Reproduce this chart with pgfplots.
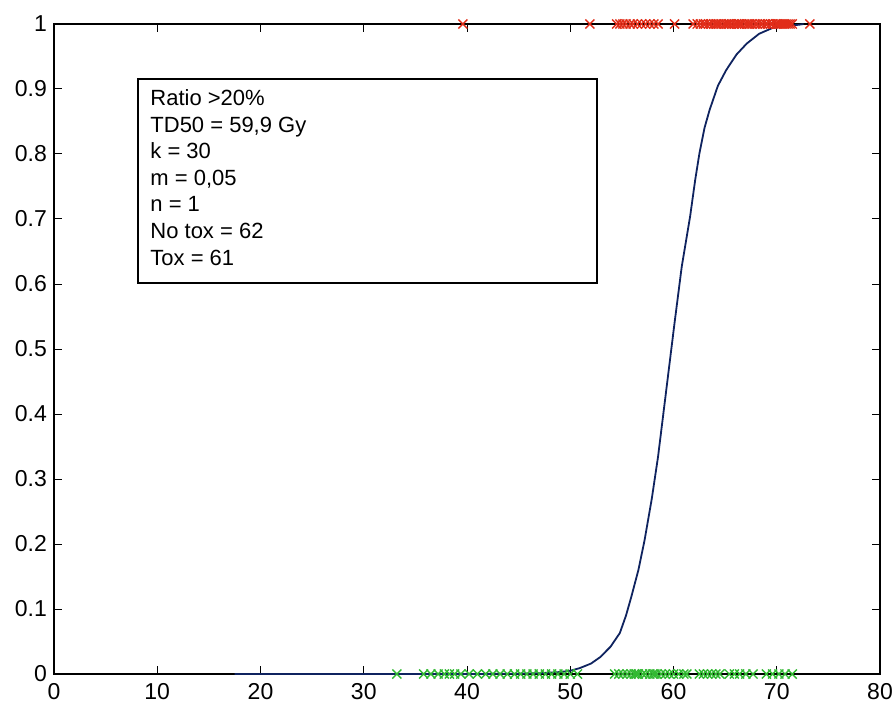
\documentclass[border=0pt]{standalone}
\usepackage{pgfplots}
\pgfplotsset{compat=1.18}
\usepackage{fontspec}
\setmainfont{Liberation Sans}
\definecolor{curve}{RGB}{15,35,95}
\definecolor{toxred}{RGB}{225,45,25}
\definecolor{notoxgreen}{RGB}{50,185,50}
\begin{document}
\begin{tikzpicture}
\begin{axis}[
  scale only axis,
  width=413pt, height=325pt,
  xmin=0, xmax=80, ymin=0, ymax=1,
  xtick={0,10,...,80},
  ytick={0,0.1,...,1},
  tick align=inside,
  major tick length=4pt,
  tick style={black, line width=0.5pt},
  axis line style={black, line width=0.8pt},
  /pgf/number format/assume math mode=true,
  ticklabel style={font=\fontsize{11.5}{13}\selectfont},
  xticklabel style={yshift=-1pt},
  yticklabel style={/pgf/number format/fixed, /pgf/number format/precision=1},
  clip=false,
]
% dose-response curve
\addplot[curve, line width=0.9pt] coordinates {
(17.5,0) (30,0) (40,0) (45,0.0005) (47,0.0012) (49,0.003) (50,0.005) (50.9,0.009) (52,0.016)
(52.9,0.026) (53.9,0.042) (54.8,0.063) (55.4,0.09) (55.9,0.118) (56.6,0.16) (57.2,0.206)
(57.9,0.27) (58.5,0.334) (59.3,0.437) (60.1,0.54) (60.8,0.627) (61.6,0.703) (62.1,0.76)
(62.5,0.8) (63,0.84) (63.5,0.868) (64.3,0.905) (65.1,0.929) (66.1,0.953) (67.1,0.97)
(68.3,0.985) (69.6,0.994) (71,0.997) (72.2,0.999) (72.6,1)
};
% Tox = 61 (y = 1)
\addplot[only marks, mark=x, mark size=3.2pt, toxred, mark options={line width=0.7pt}] coordinates {
(39.6,1) (51.9,1) (54.5,1) (54.8,1) (55.1,1) (55.4,1) (55.8,1) (56.1,1) (56.5,1) (56.9,1)
(57.3,1) (57.7,1) (58.1,1) (58.5,1) (60.1,1) (61.9,1) (62.3,1) (62.6,1) (62.9,1) (63.1,1)
(63.4,1) (63.6,1) (63.9,1) (64.1,1) (64.4,1) (64.6,1) (64.9,1) (65.1,1) (65.4,1) (65.6,1)
(65.9,1) (66.1,1) (66.4,1) (66.6,1) (66.9,1) (67.1,1) (67.4,1) (67.6,1) (67.9,1) (68.1,1)
(68.4,1) (68.6,1) (68.9,1) (69.1,1) (69.4,1) (69.6,1) (69.9,1) (70.1,1) (70.3,1) (70.5,1)
(70.7,1) (70.9,1) (71.1,1) (71.3,1) (71.5,1) (64.2,1) (65.3,1) (66.3,1) (67.3,1) (73.2,1)
(70.0,1)
};
% No tox = 62 (y = 0)
\addplot[only marks, mark=x, mark size=3.2pt, notoxgreen, mark options={line width=0.7pt}] coordinates {
(33.2,0) (35.8,0) (36.5,0) (37.2,0) (37.8,0) (38.3,0) (38.8,0) (39.4,0) (40.2,0) (41.0,0)
(41.8,0) (42.5,0) (43.2,0) (43.9,0) (44.6,0) (45.2,0) (45.8,0) (46.4,0) (47.0,0) (47.6,0)
(48.2,0) (48.8,0) (49.4,0) (50.0,0) (50.7,0) (54.3,0) (54.7,0) (55.1,0) (55.5,0) (55.9,0)
(56.2,0) (56.6,0) (57.0,0) (57.3,0) (57.7,0) (58.0,0) (58.4,0) (58.8,0) (59.2,0) (59.6,0)
(60.0,0) (60.5,0) (61.0,0) (61.3,0) (62.5,0) (62.9,0) (63.3,0) (63.7,0) (64.1,0) (64.5,0)
(65.4,0) (65.9,0) (66.4,0) (67.0,0) (67.7,0) (69.0,0) (69.6,0) (70.2,0) (70.8,0) (71.5,0)
(56.4,0) (58.2,0)
};
\draw[black, line width=0.8pt, fill=white] (axis cs:8.14,0.6015) rectangle (axis cs:52.6,0.915);
\node[anchor=base west, inner sep=0pt, align=left,
      font=\fontsize{11}{13.3}\selectfont] at (axis cs:9.3,0.629)
  {Ratio >20\%\\TD50 = 59,9 Gy\\k = 30\\m = 0,05\\n = 1\\No tox = 62\\Tox = 61};
\end{axis}
\pgfresetboundingbox
\path[use as bounding box] ([shift={(-27pt,-16pt)}]current axis.south west) rectangle ([shift={(6.5pt,12pt)}]current axis.north east);
\end{tikzpicture}
\end{document}
